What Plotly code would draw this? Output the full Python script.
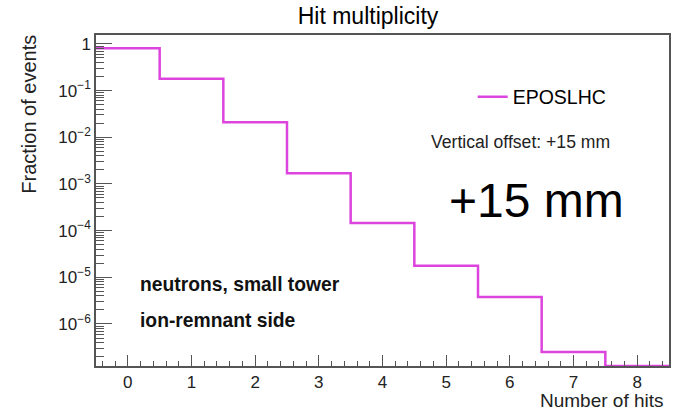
import numpy as np
import plotly.graph_objects as go

# Hit multiplicity histogram (fraction of events per number of hits)
hit_bins = [0, 1, 2, 3, 4, 5, 6, 7, 8]
fraction = [0.81, 0.18, 0.021, 1.7e-3, 1.45e-4, 1.76e-5, 3.8e-6, 2.5e-7, 0.0]
series_name = "EPOSLHC"

x_range = [-0.5, 8.5]
y_log_range = [-6.9, 0.19]

y_tick_vals = [1, 1e-1, 1e-2, 1e-3, 1e-4, 1e-5, 1e-6]
y_tick_text = ["1", "10<sup>−1</sup>", "10<sup>−2</sup>", "10<sup>−3</sup>",
               "10<sup>−4</sup>", "10<sup>−5</sup>", "10<sup>−6</sup>"]
x_tick_vals = [0, 1, 2, 3, 4, 5, 6, 7, 8]

FONT = "Liberation Sans, Arial, Helvetica, sans-serif"
LINE_COL = "#dd44dd"
AXIS_COL = "#555555"

# step outline: bin edges; empty bins sit on the lower edge of the log axis
floor_val = 10 ** y_log_range[0]
edges = [b - 0.5 for b in hit_bins] + [hit_bins[-1] + 0.5]
levels = [v if v > 0 else floor_val for v in fraction]
xs = edges
ys = levels + [levels[-1]]

# minor ticks on log axis: 2..9 in each decade
minor_y = []
for d in range(-8, 1):
    for k in range(2, 10):
        v = k * 10.0 ** d
        if np.log10(v) <= y_log_range[1]:
            minor_y.append(v)

fig = go.Figure()
fig.add_trace(go.Scatter(
    x=xs, y=ys, mode="lines", name=series_name,
    line=dict(color=LINE_COL, width=2.5, shape="hv"),
    showlegend=True,
))

fig.update_layout(
    width=681, height=411,
    margin=dict(l=96, r=10, t=35, b=45),
    paper_bgcolor="white", plot_bgcolor="white",
    font=dict(family=FONT, color="black", size=17),
    title=dict(text="Hit multiplicity", x=368 / 681, xanchor="center",
               y=1 - 16 / 411, yanchor="middle",
               font=dict(family=FONT, size=23, color="black")),
    legend=dict(x=(474 - 96) / 575, y=1 - (97 - 35) / 331, xanchor="left",
                yanchor="middle", bgcolor="rgba(0,0,0,0)",
                font=dict(family=FONT, size=19.5, color="black"),
                itemwidth=30),
)

fig.update_xaxes(
    range=x_range, tickvals=x_tick_vals,
    showline=True, linecolor=AXIS_COL, linewidth=1.5, mirror=True,
    ticks="inside", ticklen=11, tickcolor=AXIS_COL, tickwidth=1,
    minor=dict(dtick=0.2, ticks="inside", ticklen=5, tickcolor=AXIS_COL, tickwidth=1),
    showgrid=False, zeroline=False,
    tickfont=dict(family=FONT, size=17, color="#222222"),
)
fig.update_yaxes(
    type="log", range=y_log_range,
    tickvals=y_tick_vals, ticktext=y_tick_text,
    showline=True, linecolor=AXIS_COL, linewidth=1.5, mirror=True,
    ticks="inside", ticklen=16, tickcolor=AXIS_COL, tickwidth=1,
    minor=dict(tickvals=minor_y, ticks="inside", ticklen=8, tickcolor=AXIS_COL, tickwidth=1),
    showgrid=False, zeroline=False,
    tickfont=dict(family=FONT, size=17, color="#222222"),
)

# axis titles
fig.add_annotation(text="Fraction of events", xref="paper", yref="paper",
                   x=-(96 - 28) / 575, y=1 + 2 / 331, textangle=-90,
                   xanchor="center", yanchor="top", showarrow=False,
                   font=dict(family=FONT, size=20, color="#222222"))
fig.add_annotation(text="Number of hits", xref="paper", yref="paper",
                   x=(668 - 96) / 575, y=-(400 - 366) / 331,
                   xanchor="right", yanchor="middle", showarrow=False,
                   font=dict(family=FONT, size=19, color="#222222"))

# descriptive labels inside the frame
fig.add_annotation(text="Vertical offset: +15 mm", xref="paper", yref="paper",
                   x=(430 - 96) / 575, y=1 - (142 - 35) / 331,
                   xanchor="left", yanchor="middle", showarrow=False,
                   font=dict(family=FONT, size=17.6, color="#222222"))
fig.add_annotation(text="+15 mm", xref="paper", yref="paper",
                   x=(448 - 96) / 575, y=1 - (200 - 35) / 331,
                   xanchor="left", yanchor="middle", showarrow=False,
                   font=dict(family=FONT, size=48, color="black"))
fig.add_annotation(text="<b>neutrons, small tower</b>", xref="paper", yref="paper",
                   x=(138 - 96) / 575, y=1 - (284 - 35) / 331,
                   xanchor="left", yanchor="middle", showarrow=False,
                   font=dict(family=FONT, size=19.3, color="#111111"))
fig.add_annotation(text="<b>ion-remnant side</b>", xref="paper", yref="paper",
                   x=(138 - 96) / 575, y=1 - (320 - 35) / 331,
                   xanchor="left", yanchor="middle", showarrow=False,
                   font=dict(family=FONT, size=19.3, color="#111111"))

fig.write_html("out.html")
